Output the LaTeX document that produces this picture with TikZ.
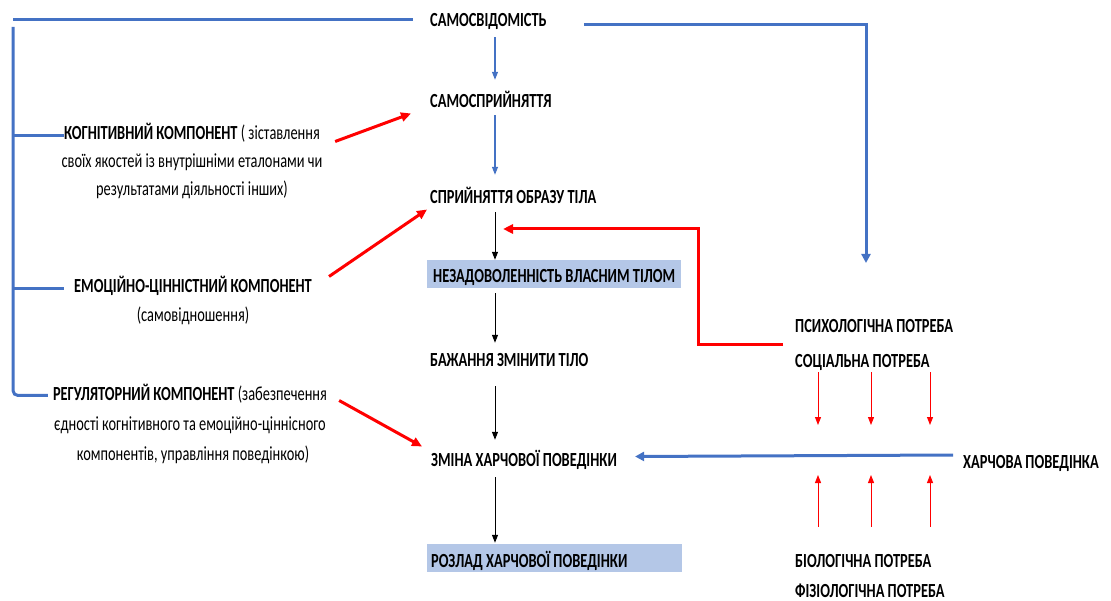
\documentclass[tikz,border=0pt]{standalone}
\usepackage{fontspec}
\setmainfont{Carlito}[FakeStretch=0.72]
\usetikzlibrary{arrows.meta,calc}
\definecolor{ublue}{HTML}{4472C4}
\definecolor{ured}{HTML}{FF0000}
\definecolor{ubox}{HTML}{B4C7E7}
\begin{document}
\begin{tikzpicture}[x=1pt,y=-1pt,
  lbl/.style={inner sep=0pt, text height=13pt, text depth=4pt, anchor=base west, font=\fontsize{20pt}{28pt}\selectfont\bfseries},
  txt/.style={inner sep=0pt, text height=13pt, text depth=4pt, anchor=base, font=\fontsize{20pt}{28pt}\selectfont},
  hbox/.style={lbl, fill=ubox, inner xsep=4pt, inner ysep=0pt, text height=23pt, text depth=5pt},
  bthick/.style={ublue, line width=3pt},
  bthin/.style={ublue, line width=1.2pt, -{Triangle[length=8pt,width=6pt]}},
  rthick/.style={ured, line width=3pt, -{Triangle[length=10pt,width=9pt]}},
  rthin/.style={ured, line width=1pt, -{Triangle[length=8pt,width=6pt]}},
  karr/.style={black, line width=1pt, -{Triangle[length=8pt,width=6pt]}}
]
\useasboundingbox (0,0) rectangle (1111,601);

% central column
\node[lbl] (sam) at (430,27) {САМОСВІДОМІСТЬ};
\node[lbl] (samsp) at (430,108) {САМОСПРИЙНЯТТЯ};
\node[lbl] (obraz) at (430,204) {СПРИЙНЯТТЯ ОБРАЗУ ТІЛА};
\node[hbox, inner xsep=0pt, minimum width=254pt] (nezad) at (427,283) {НЕЗАДОВОЛЕННІСТЬ ВЛАСНИМ ТІЛОМ};
\node[lbl] (bazh) at (430,367) {БАЖАННЯ ЗМІНИТИ ТІЛО};
\node[lbl] (zmina) at (431,466) {ЗМІНА ХАРЧОВОЇ ПОВЕДІНКИ};
\node[hbox, text width=247pt, align=flush left] (rozlad) at (427,567) {РОЗЛАД ХАРЧОВОЇ ПОВЕДІНКИ};

% right side
\node[lbl] (psych) at (795,333) {ПСИХОЛОГІЧНА ПОТРЕБА};
\node[lbl] (soc) at (795,368) {СОЦІАЛЬНА ПОТРЕБА};
\node[lbl] (bio) at (795,567) {БІОЛОГІЧНА ПОТРЕБА};
\node[lbl] (fiz) at (795,597) {ФІЗІОЛОГІЧНА ПОТРЕБА};
\node[lbl] (harch) at (963,468) {ХАРЧОВА ПОВЕДІНКА};

% left side
\node[txt] (kog1) at (192,140) {\textbf{КОГНІТИВНИЙ КОМПОНЕНТ} ( зіставлення};
\node[txt] (kog2) at (192,168) {своїх якостей із внутрішніми еталонами чи};
\node[txt] (kog3) at (192,196) {результатами діяльності інших)};
\node[txt] (emo1) at (193,293) {\textbf{ЕМОЦІЙНО-ЦІННІСТНИЙ КОМПОНЕНТ}};
\node[txt] (emo2) at (193,322) {(самовідношення)};
\node[txt] (reg1) at (190,400) {\textbf{РЕГУЛЯТОРНИЙ КОМПОНЕНТ} (забезпечення};
\node[txt] (reg2) at (190,430) {єдності когнітивного та емоційно-ціннісного};
\node[txt] (reg3) at (193,460) {компонентів, управління поведінкою)};

% helper coordinates
\coordinate (col) at (495,0);
\coordinate (tl) at (13,20);
\coordinate (trunk) at (13,27);
\coordinate (rend) at (866,263);
\coordinate (rc) at (698,345);
\coordinate (rtip) at (503,229);

% blue tree on the left
\draw[bthick, shorten >=17pt] (tl) -- (tl -| sam.west);
\draw[bthick, rounded corners=5pt] (trunk) |- ([shift={(-5,0)}]reg1.west);
\draw[bthick] (trunk |- kog1.west) -- (kog1.west);
\draw[bthick] (trunk |- emo1.west) -- ([shift={(-10,0)}]emo1.west);

% blue to the right
\draw[bthick, -{Triangle[length=9pt,width=9pt]}] ([shift={(37,2.5)}]sam.east) -| (rend);

% central arrows
\draw[bthin, shorten <=6pt, shorten >=15pt] (sam.south -| col) -- (samsp.north -| col);
\draw[bthin, shorten <=3pt, shorten >=16pt] (samsp.south -| col) -- (obraz.north -| col);
\draw[karr, shorten <=4pt] (obraz.south -| col) -- (nezad.north -| col);
\draw[karr, shorten <=5pt, shorten >=11pt] (nezad.south -| col) -- (bazh.north -| col);
\draw[karr, shorten <=15pt, shorten >=13pt] (bazh.south -| col) -- (zmina.north -| col);
\draw[karr, shorten <=7pt, shorten >=1pt] (zmina.south -| col) -- (rozlad.north -| col);

% red connectors
\draw[rthick] ([shift={(-12,0)}]psych.west |- rc) -- (rc) |- (rtip);
\draw[rthick] ([shift={(15,6)}]kog1.east) -- ([shift={(-19,10)}]samsp.west);
\draw[rthick] ([shift={(17,-12)}]emo1.east) -- ([shift={(-3,10)}]obraz.west);
\draw[rthick] ([shift={(12,5)}]reg1.east) -- ([shift={(-9,-15)}]zmina.west);

% eating behaviour
\draw[bthick, -{Triangle[length=9pt,width=9pt]}] ([shift={(-10,-8.5)}]harch.west) -- ([shift={(18,-5)}]zmina.east);
\foreach \x [count=\i] in {818,871,930} {
  \coordinate (dn\i) at (\x,425);
  \coordinate (up\i) at (\x,475);
  \draw[rthin] (soc.south -| dn\i) -- (dn\i);
  \draw[rthin, shorten <=27pt] (bio.north -| up\i) -- (up\i);
}
\end{tikzpicture}
\end{document}
